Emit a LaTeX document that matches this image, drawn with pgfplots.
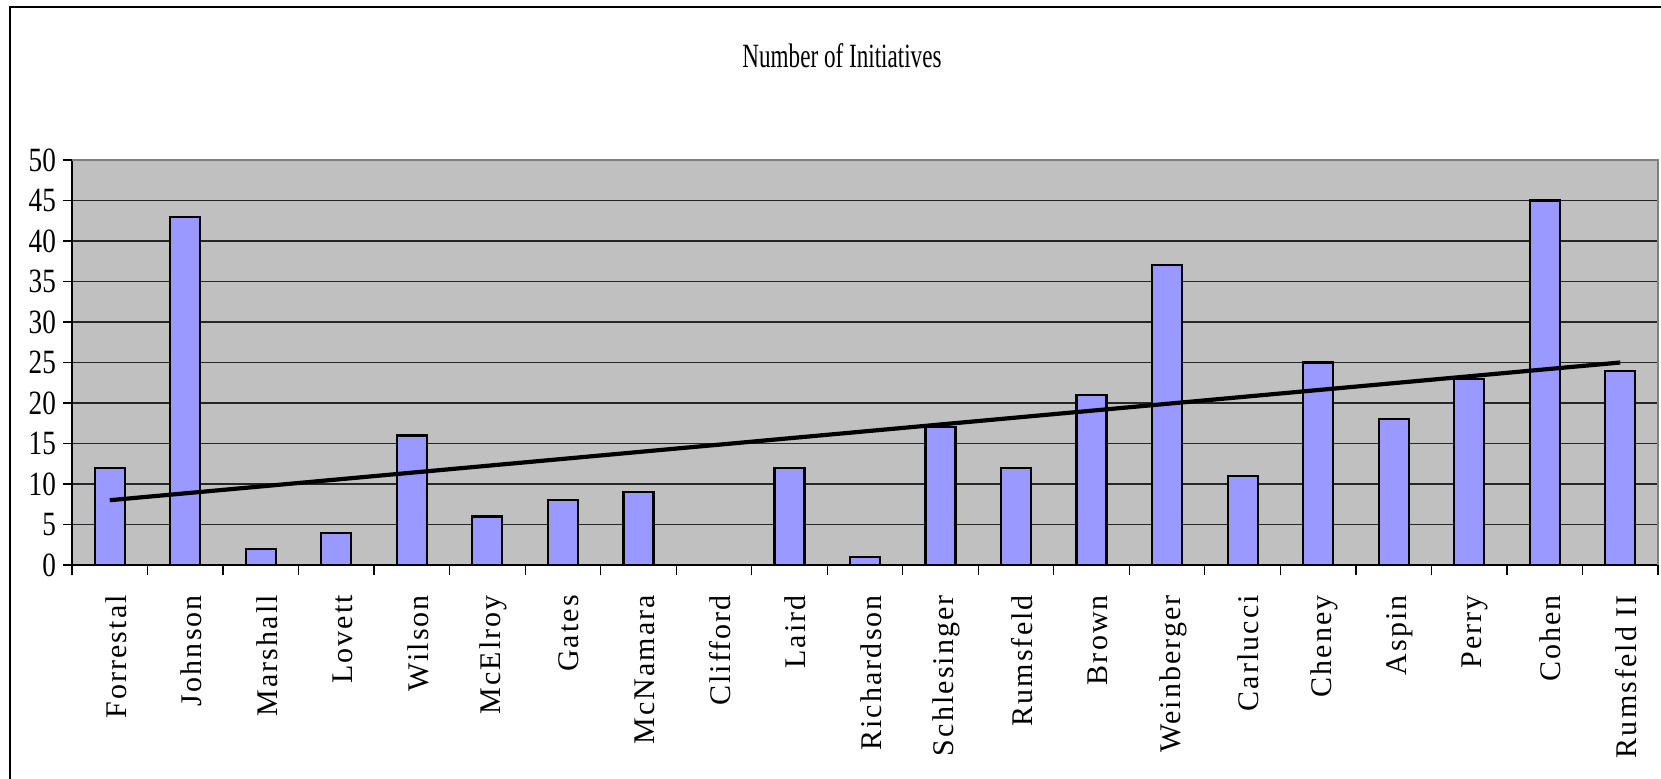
\documentclass[border=0pt]{standalone}
\usepackage{pgfplots}
\pgfplotsset{compat=1.18}
\usepackage{fontspec}
\setmainfont{Liberation Serif}
\newfontfamily\titlefont[FakeStretch=0.68]{Liberation Serif}
\newfontfamily\yfont[FakeStretch=0.8]{Liberation Serif}
\newfontfamily\xfont[LetterSpace=7]{Liberation Serif}
\definecolor{barblue}{HTML}{9999FF}
\definecolor{plotgray}{HTML}{C0C0C0}
\begin{document}
\begin{tikzpicture}
\path[use as bounding box] (-36pt,-106.5pt) rectangle (794.5pt,282.5pt);
\draw[black, line width=0.6pt] (-31pt,-130pt) -- (-31pt,279pt) -- (830pt,279pt);
\begin{axis}[
  at={(0,0)}, anchor=south west,
  scale only axis, width=793pt, height=202.5pt,
  xmin=-0.5, xmax=20.5, ymin=0, ymax=50,
  axis x line*=bottom, axis y line*=left,
  axis line style={black, line width=0.6pt},
  axis background/.style={fill=plotgray},
  ytick={0,5,...,50},
  xtick={0,...,20},
  xticklabels={Forrestal,Johnson,Marshall,Lovett,Wilson,McElroy,Gates,McNamara,Clifford,Laird,Richardson,Schlesinger,Rumsfeld,Brown,Weinberger,Carlucci,Cheney,Aspin,Perry,Cohen,Rumsfeld II},
  minor xtick={-0.5,0.5,...,20.5},
  major x tick style={draw=none},
  tick align=outside,
  major tick length=4.5pt, minor tick length=5pt,
  tick style={black, line width=0.6pt},
  ymajorgrids, grid style={black!85, line width=0.6pt},
  /pgf/number format/assume math mode=true,
  yticklabel style={font=\yfont\fontsize{17}{17}\selectfont},
  xticklabel style={font=\xfont\fontsize{15}{15}\selectfont, xshift=3pt, yshift=-7pt, rotate=90, anchor=east},
  clip=false,
]
\draw[gray, line width=0.6pt] (rel axis cs:0,1) -- (rel axis cs:1,1) -- (rel axis cs:1,0);
\addplot[ybar, bar width=15pt, fill=barblue, draw=black, line width=1.1pt] coordinates {
(0,12) (1,43) (2,2) (3,4) (4,16) (5,6) (6,8) (7,9) (8,0) (9,12) (10,1)
(11,17) (12,12) (13,21) (14,37) (15,11) (16,25) (17,18) (18,23) (19,45) (20,24)};
\addplot[black, line width=2.1pt, no marks] coordinates {(0,8) (20,25)};
\end{axis}
\node[font=\titlefont\fontsize{17}{17}\selectfont] at (385pt,254.5pt) {Number of Initiatives};
\end{tikzpicture}
\end{document}
